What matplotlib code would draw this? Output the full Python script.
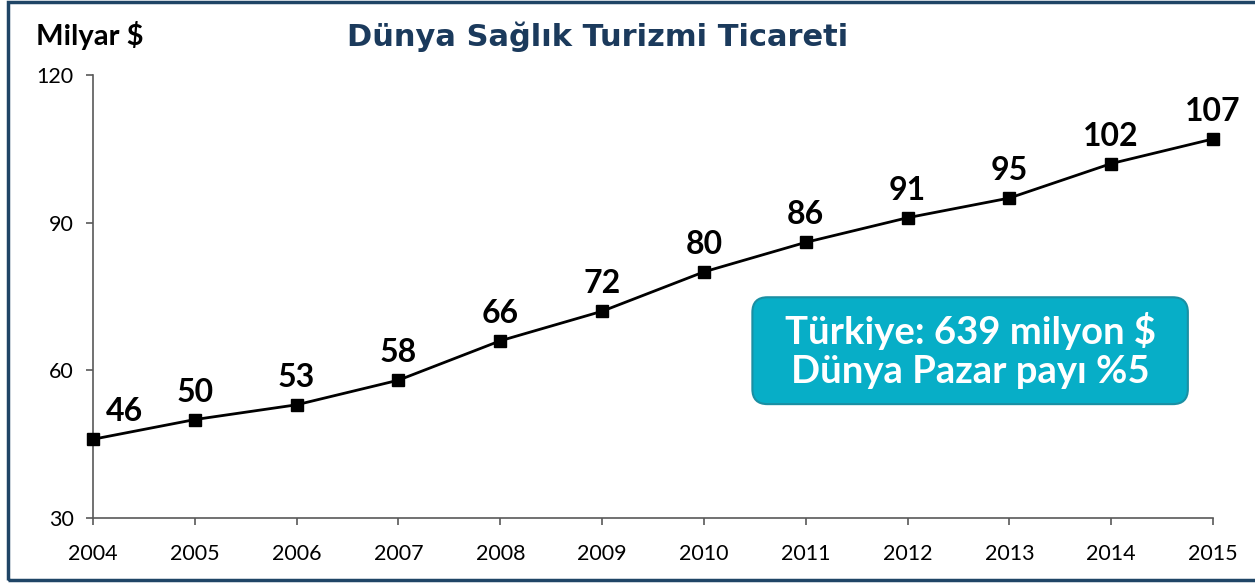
import matplotlib.pyplot as plt
from matplotlib.patches import Rectangle, FancyBboxPatch

# --- Dados ---
years = [2004, 2005, 2006, 2007, 2008, 2009, 2010, 2011, 2012, 2013, 2014, 2015]
values = [46, 50, 53, 58, 66, 72, 80, 86, 91, 95, 102, 107]
y_ticks = [30, 60, 90, 120]

title = "Dünya Sağlık Turizmi Ticareti"
unit_label = "Milyar $"
box_text = "Türkiye: 639 milyon $\nDünya Pazar payı %5"

plt.rcParams['font.family'] = ['Lato', 'DejaVu Sans']

fig = plt.figure(figsize=(12.55, 5.84), dpi=100)
ax = fig.add_axes([0.0741, 0.113, 0.8924, 0.7586])

ax.plot(years, values, color='black', lw=2, marker='s', markersize=8.5,
        markerfacecolor='black', markeredgecolor='black', clip_on=False, zorder=3)

for i, (x, y) in enumerate(zip(years, values)):
    dx = 23 if i == 0 else 0
    ax.annotate(str(y), (x, y), xytext=(dx, 13), textcoords='offset points',
                ha='center', va='baseline', fontsize=23, fontweight='bold')

ax.set_xlim(years[0], years[-1])
ax.set_ylim(y_ticks[0], y_ticks[-1])
ax.set_xticks(years)
ax.set_yticks(y_ticks)
ax.tick_params(axis='both', direction='out', length=5, width=1.2,
               color='#595959', labelsize=15.5)
ax.tick_params(axis='x', pad=14)
ax.tick_params(axis='y', pad=9)
for s in ['top', 'right']:
    ax.spines[s].set_visible(False)
for s in ['left', 'bottom']:
    ax.spines[s].set_color('#595959')
    ax.spines[s].set_linewidth(1.2)

# Título e unidade
fig.text(0.476, 0.937, title, ha='center', va='center', fontsize=22,
         fontweight='bold', color='#1B3A5C', family='DejaVu Sans')
fig.text(0.029, 0.94, unit_label, ha='left', va='center', fontsize=21,
         fontweight='bold', color='black')

# Caixa de destaque
fig.patches.append(FancyBboxPatch((0.5995, 0.308), 0.347, 0.183,
                                  boxstyle='round,pad=0,rounding_size=0.012',
                                  mutation_aspect=1255 / 584,
                                  transform=fig.transFigure,
                                  facecolor='#07AEC7', edgecolor='#1A8FA3', lw=1.5))
fig.text(0.773, 0.40, box_text, ha='center', va='center', fontsize=27.5,
         fontweight='bold', color='white', linespacing=1.2)

# Moldura
fig.patches.append(Rectangle((0.006, 0.006), 1.2, 0.99, transform=fig.transFigure,
                             fill=False, edgecolor='#1F4566', lw=2.5))

fig.savefig('out.png', dpi=100)
